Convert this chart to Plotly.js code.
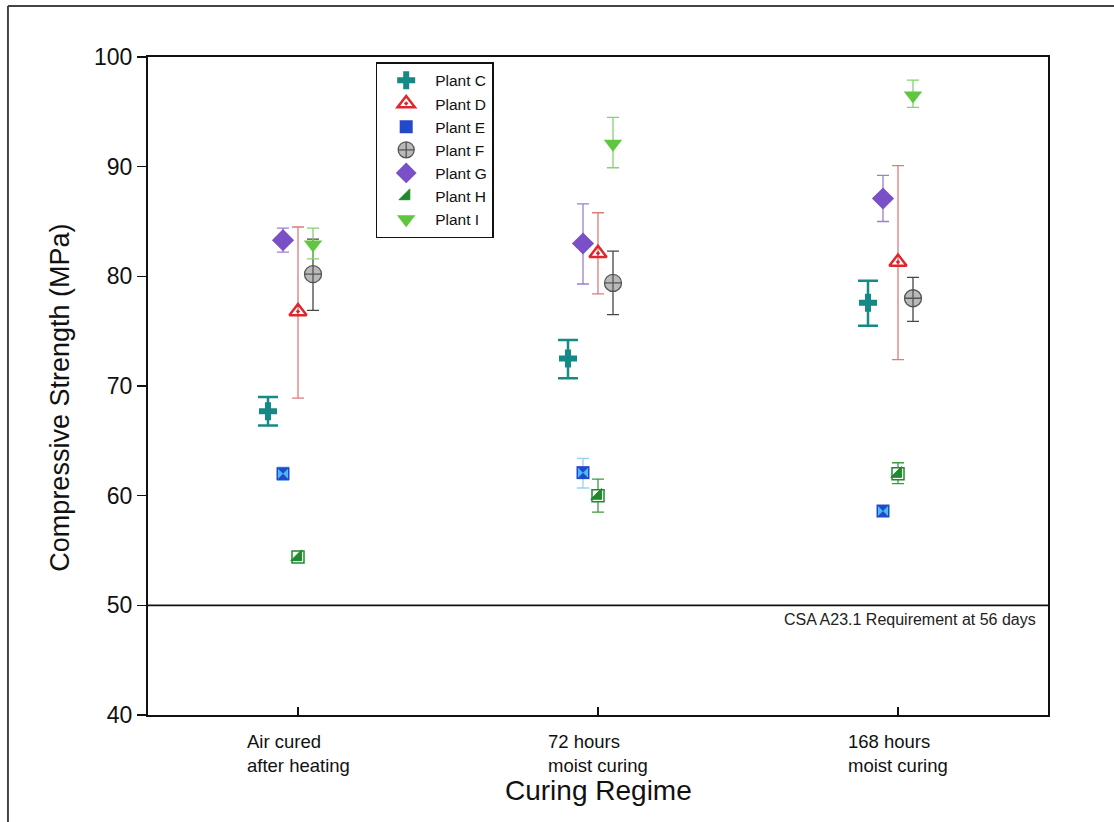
<!DOCTYPE html>
<html>
<head>
<meta charset="utf-8">
<script src="https://cdn.plot.ly/plotly-3.0.1.min.js"></script>
<style>
  html, body { margin: 0; padding: 0; background: #fff; }
  #chart { width: 1114px; height: 822px; }
</style>
</head>
<body>
<div id="chart"></div>
<script>
// ---- Data ----
var categories = ["Air cured<br>after heating", "72 hours<br>moist curing", "168 hours<br>moist curing"];

var plantC_mean = [67.7, 72.5, 77.6];
var plantC_hi   = [69.0, 74.2, 79.6];
var plantC_lo   = [66.4, 70.7, 75.5];

var plantD_mean = [76.8, 82.1, 81.3];
var plantD_hi   = [84.5, 85.8, 90.1];
var plantD_lo   = [68.9, 78.4, 72.4];

var plantE_mean = [62.0, 62.1, 58.6];
var plantE_hi   = [62.6, 63.4, 58.9];
var plantE_lo   = [61.4, 60.7, 58.3];

var plantF_mean = [80.2, 79.4, 78.0];
var plantF_hi   = [83.4, 82.3, 79.9];
var plantF_lo   = [76.9, 76.5, 75.9];

var plantG_mean = [83.3, 83.0, 87.1];
var plantG_hi   = [84.4, 86.6, 89.2];
var plantG_lo   = [82.2, 79.3, 85.0];

var plantH_mean = [54.4, 60.0, 62.0];
var plantH_hi   = [54.4, 61.5, 63.0];
var plantH_lo   = [54.4, 58.5, 61.1];

var plantI_mean = [82.9, 92.1, 96.5];
var plantI_hi   = [84.4, 94.5, 97.9];
var plantI_lo   = [81.6, 89.9, 95.4];

var requirement = 50;
var yTicks = [40, 50, 60, 70, 80, 90, 100];

// ---- Helpers ----
var catIdx = categories.map(function (c, i) { return i; });
function xs(offset) { return catIdx.map(function (i) { return i + offset; }); }
function errY(mean, hi, lo, color, thick, width) {
  return {
    type: 'data', symmetric: false, visible: true,
    array: hi.map(function (h, i) { return h - mean[i]; }),
    arrayminus: lo.map(function (l, i) { return mean[i] - l; }),
    color: color, thickness: thick, width: width
  };
}

var FONT = 'Arial, "Liberation Sans", sans-serif';

var traces = [
  { // Plant C
    type: 'scatter', mode: 'markers', name: 'Plant C',
    x: xs(-0.10), y: plantC_mean,
    marker: { symbol: 'cross', size: 15, color: '#148985', line: { width: 0 } },
    error_y: errY(plantC_mean, plantC_hi, plantC_lo, '#178a86', 2.5, 10)
  },
  { // Plant D
    type: 'scatter', mode: 'markers', name: 'Plant D',
    x: xs(0.0), y: plantD_mean,
    marker: { symbol: 'triangle-up-open-dot', size: 15, color: '#e1262b', line: { width: 2.5, color: '#e1262b' } },
    error_y: errY(plantD_mean, plantD_hi, plantD_lo, '#de7b7b', 1.3, 6)
  },
  { // Plant E base (blue square)
    type: 'scatter', mode: 'markers', name: 'Plant E',
    x: xs(-0.05), y: plantE_mean,
    marker: { symbol: 'square', size: 13, color: '#2448cc', line: { width: 0 } },
    error_y: errY(plantE_mean, plantE_hi, plantE_lo, '#93d3f2', 1.3, 6)
  },
  { // Plant E overlay (cyan bowtie)
    type: 'scatter', mode: 'markers', name: 'Plant E', showlegend: false, hoverinfo: 'skip',
    x: xs(-0.05), y: plantE_mean,
    marker: { symbol: 'bowtie', size: 10, color: '#45bdf2', line: { width: 0 } }
  },
  { // Plant F
    type: 'scatter', mode: 'markers', name: 'Plant F',
    x: xs(0.05), y: plantF_mean,
    marker: { symbol: 'circle-cross', size: 17, color: '#b9b9b9', line: { width: 1.3, color: '#555555' } },
    error_y: errY(plantF_mean, plantF_hi, plantF_lo, '#474747', 1.3, 6)
  },
  { // Plant G
    type: 'scatter', mode: 'markers', name: 'Plant G',
    x: xs(-0.05), y: plantG_mean,
    marker: { symbol: 'diamond', size: 17, color: '#7a50c6', line: { width: 0 } },
    error_y: errY(plantG_mean, plantG_hi, plantG_lo, '#9a80d2', 1.3, 6)
  },
  { // Plant H base (white square with green outline)
    type: 'scatter', mode: 'markers', name: 'Plant H', showlegend: false, hoverinfo: 'skip',
    x: xs(0.0), y: plantH_mean,
    marker: { symbol: 'square', size: 12, color: '#ffffff', line: { width: 1.5, color: '#1f8a2c' } },
    error_y: errY(plantH_mean, plantH_hi, plantH_lo, '#3c9a40', 1.3, 6)
  },
  { // Plant H overlay (dark green lower-right half)
    type: 'scatter', mode: 'markers', name: 'Plant H',
    x: xs(0.0), y: plantH_mean,
    marker: { symbol: 'triangle-se', size: 12, color: '#1f8a2c', line: { width: 1, color: '#1f8a2c' } }
  },
  { // Plant I
    type: 'scatter', mode: 'markers', name: 'Plant I',
    x: xs(0.05), y: plantI_mean,
    marker: { symbol: 'triangle-down', size: 16, color: '#5ec63f', line: { width: 0 } },
    error_y: errY(plantI_mean, plantI_hi, plantI_lo, '#84d36e', 1.3, 6)
  }
];

// x tick labels as left-aligned annotations centred on each category
var annotations = categories.map(function (c, i) {
  return {
    xref: 'x', yref: 'paper', x: i, y: -0.022,
    xanchor: 'center', yanchor: 'top', align: 'left',
    text: c, showarrow: false,
    font: { family: FONT, size: 18.5, color: '#111' }
  };
});
annotations.push({
  xref: 'paper', yref: 'y', x: 0.989, y: requirement,
  xanchor: 'right', yanchor: 'top', yshift: -4,
  text: 'CSA A23.1 Requirement at 56 days', showarrow: false,
  font: { family: FONT, size: 16, color: '#222' }
});
annotations.push({
  xref: 'paper', yref: 'paper', x: 0.5, y: -0.114,
  xanchor: 'center', yanchor: 'middle',
  text: 'Curing Regime', showarrow: false,
  font: { family: FONT, size: 28, color: '#111' }
});
annotations.push({
  xref: 'paper', yref: 'paper', x: -0.098, y: 0.482,
  xanchor: 'center', yanchor: 'middle', textangle: -90,
  text: 'Compressive Strength (MPa)', showarrow: false,
  font: { family: FONT, size: 27, color: '#111' }
});

var layout = {
  width: 1114, height: 822,
  margin: { l: 148, r: 66, t: 57, b: 107, pad: 0 },
  paper_bgcolor: '#ffffff', plot_bgcolor: '#ffffff',
  showlegend: true,
  font: { family: FONT, color: '#111' },
  xaxis: {
    range: [-0.5, 2.5], tickvals: catIdx, ticktext: categories,
    showticklabels: false, ticks: 'inside', ticklen: 8, tickwidth: 1.5, tickcolor: '#111',
    showgrid: false, zeroline: false,
    showline: true, linecolor: '#111', linewidth: 2, mirror: true
  },
  yaxis: {
    range: [40, 100], tickvals: yTicks, ticks: 'outside', ticklen: 9, tickwidth: 1.5, tickcolor: '#111',
    tickfont: { family: FONT, size: 23, color: '#111' },
    showgrid: false, zeroline: false,
    showline: true, linecolor: '#111', linewidth: 2, mirror: true
  },
  legend: {
    x: 0.253, y: 0.992, xanchor: 'left', yanchor: 'top',
    bgcolor: '#ffffff', bordercolor: '#111', borderwidth: 1.5,
    font: { family: FONT, size: 15.5, color: '#111' },
    itemwidth: 48, tracegroupgap: 0
  },
  shapes: [
    { type: 'line', xref: 'paper', yref: 'y', x0: 0, x1: 1, y0: requirement, y1: requirement,
      line: { color: '#111', width: 1.8 } },
    { type: 'line', xref: 'paper', yref: 'paper', x0: -0.1556, x1: -0.1556, y0: -0.2, y1: 1.0775,
      line: { color: '#444', width: 2 } },
    { type: 'line', xref: 'paper', yref: 'paper', x0: -0.1556, x1: 1.1, y0: 1.0775, y1: 1.0775,
      line: { color: '#444', width: 2 } }
  ],
  annotations: annotations
};

Plotly.newPlot('chart', traces, layout, { displayModeBar: false, staticPlot: true });
</script>
</body>
</html>
